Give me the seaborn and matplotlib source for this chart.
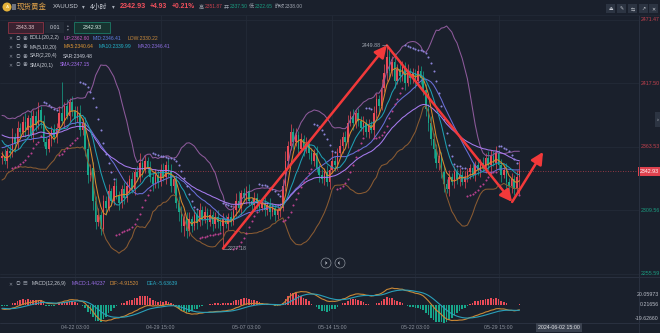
import numpy as np
import pandas as pd
import matplotlib
matplotlib.use("Agg")
import matplotlib.pyplot as plt
import seaborn as sns
from matplotlib.patches import Rectangle, Ellipse
from matplotlib.lines import Line2D
from matplotlib.transforms import blended_transform_factory

# ---------------- data ----------------
pre_close = [2400, 2418, 2396, 2360, 2338, 2346, 2352, 2344, 2336, 2348, 2356, 2350, 2362,
             2358, 2370, 2366, 2378, 2384, 2372, 2380, 2388, 2376, 2368, 2362, 2350, 2354]
first_open = 2354.0
close = [
    2356, 2352, 2360, 2358, 2372, 2366, 2380, 2376, 2385, 2378,
    2388, 2374, 2390, 2382, 2395, 2386, 2368, 2362, 2370, 2378,
    2372, 2380, 2392, 2386, 2398, 2390, 2402, 2394, 2388, 2392,
    2378, 2384, 2362, 2340, 2346, 2318, 2300, 2306, 2294, 2318,
    2312, 2326, 2318, 2330, 2322, 2316, 2328, 2320, 2330, 2336,
    2328, 2342, 2338, 2350, 2344, 2352, 2346, 2338, 2332, 2340,
    2334, 2344, 2338, 2348, 2342, 2330, 2336, 2316, 2308, 2296,
    2304, 2292, 2302, 2296, 2306, 2300, 2310, 2302, 2308, 2300,
    2306, 2298, 2304, 2300, 2296, 2302, 2298, 2304, 2300, 2310,
    2318, 2312, 2324, 2320, 2326, 2318, 2314, 2320, 2316, 2312,
    2316, 2310, 2314, 2308, 2312, 2306, 2310, 2312, 2330, 2352,
    2364, 2376, 2368, 2374, 2362, 2370, 2362, 2366, 2358, 2352,
    2358, 2346, 2340, 2336, 2342, 2334, 2344, 2352, 2348, 2358,
    2364, 2372, 2368, 2384, 2390, 2384, 2392, 2386, 2380, 2384,
    2376, 2382, 2378, 2392, 2404, 2398, 2414, 2426, 2440, 2428,
    2436, 2420, 2430, 2424, 2432, 2418, 2428, 2422, 2426, 2420,
    2428, 2422, 2412, 2396, 2384, 2370, 2362, 2350, 2356, 2342,
    2332, 2328, 2338, 2334, 2342, 2336, 2340, 2334, 2338, 2342,
    2346, 2340, 2348, 2344, 2350, 2346, 2354, 2348, 2356, 2350,
    2358, 2348, 2340, 2344, 2334, 2330, 2336, 2328, 2338, 2342.93,
]
wick_up = [
    4, 6, 3, 5, 8, 3, 6, 4, 5, 7, 3, 6, 5, 4, 7, 3, 5, 4, 6, 3,
    5, 4, 6, 27, 4, 6, 3, 5, 4, 6, 7, 4, 5, 6, 3, 5, 4, 6, 3, 5,
    4, 6, 3, 5, 7, 4, 3, 6, 5, 4, 6, 3, 5, 8, 4, 5, 3, 6, 4, 5,
    3, 5, 6, 4, 5, 7, 3, 4, 6, 5, 3, 4, 6, 3, 5, 4, 6, 3, 5, 4,
    5, 3, 4, 6, 3, 5, 4, 3, 5, 4, 6, 8, 3, 5, 4, 6, 3, 5, 4, 3,
    4, 5, 3, 6, 4, 3, 5, 4, 6, 8, 5, 7, 4, 6, 3, 5, 4, 6, 3, 5,
    4, 6, 3, 5, 4, 6, 3, 7, 4, 5, 6, 4, 5, 7, 4, 6, 3, 5, 4, 6,
    3, 5, 4, 6, 5, 4, 7, 8, 9.88, 6, 5, 7, 4, 6, 5, 4, 6, 3, 5, 4,
    5, 4, 6, 5, 4, 6, 5, 4, 6, 3, 5, 4, 6, 3, 5, 4, 6, 3, 5, 4,
    3, 5, 4, 6, 3, 5, 4, 6, 5, 4, 6, 3, 5, 4, 6, 3, 5, 4, 6, 8.94,
]
wick_dn = [
    5, 3, 6, 4, 3, 7, 4, 5, 3, 6, 4, 3, 6, 5, 3, 6, 4, 5, 3, 6,
    4, 5, 3, 4, 6, 3, 5, 4, 6, 3, 5, 4, 6, 7, 5, 8, 6, 4, 5, 4,
    6, 3, 5, 4, 3, 6, 4, 5, 3, 6, 4, 5, 3, 4, 6, 3, 5, 4, 6, 3,
    5, 4, 3, 6, 4, 5, 6, 4, 7, 5, 8, 6, 4, 5, 3, 6, 4, 5, 3, 6,
    4, 6, 3, 5, 4, 18.82, 3, 5, 4, 3, 5, 4, 6, 3, 5, 4, 6, 3, 5, 4,
    3, 5, 4, 6, 3, 5, 4, 6, 3, 4, 5, 3, 6, 4, 5, 3, 6, 4, 5, 3,
    5, 4, 6, 3, 5, 4, 6, 3, 5, 4, 3, 6, 4, 5, 3, 6, 4, 5, 3, 6,
    4, 5, 3, 6, 4, 5, 3, 4, 6, 5, 4, 6, 3, 5, 4, 6, 3, 5, 4, 6,
    3, 5, 4, 6, 7, 5, 8, 4, 6, 5, 7, 4, 6, 3, 5, 4, 6, 3, 5, 4,
    6, 3, 5, 4, 6, 3, 5, 4, 6, 3, 5, 4, 6, 3, 5, 4, 6, 5, 4, 15.35,
]
price_ticks = [2471.47, 2417.50, 2363.53, 2309.56, 2255.59]
current_price = 2342.93
macd_ticks = ["20.05973", "0.21656", "-19.62660"]
date_tick_idx = [28, 61, 94, 127, 159, 191]
date_labels = ["04-22 03:00", "04-29 15:00", "05-07 03:00", "05-14 15:00", "05-22 03:00", "05-29 15:00"]
cursor_label = "2024-06-02 15:00"
arrow_extra = [(196.2, 2316.8), (208.1, 2359.3)]   # hand-drawn arrow tips

# ---------------- indicators ----------------
c = np.array(close, float)
o = np.concatenate([[first_open], c[:-1]])
hi = np.maximum(o, c) + np.array(wick_up, float)
lo = np.minimum(o, c) - np.array(wick_dn, float)
idx = np.arange(len(c))
npre = len(pre_close)
full = pd.Series(pre_close + close, dtype=float)

def ma(n):
    return full.rolling(n).mean().values[npre:]
ma5, ma10, ma20 = ma(5), ma(10), ma(20)
sd20 = full.rolling(20).std(ddof=0).values[npre:]
b_up, b_dn = ma20 + 2 * sd20, ma20 - 2 * sd20
sma = full.ewm(alpha=1 / 20, adjust=False).mean().values[npre:]
dif_full = full.ewm(span=12, adjust=False).mean() - full.ewm(span=26, adjust=False).mean()
dea_full = dif_full.ewm(span=9, adjust=False).mean()
dif = dif_full.values[npre:]
dea = dea_full.values[npre:]
hist = 2 * (dif - dea)

def psar(h, l, step=0.02, mx=0.2, n0=4):
    n = len(h)
    sar = np.full(n, np.nan)
    tr = np.zeros(n, int)
    up = False
    ep = l[:n0].min()
    s = h[:n0].max()
    af = step
    for i in range(n0, n):
        s = s + af * (ep - s)
        if up:
            s = min(s, l[i - 1], l[i - 2])
            if l[i] < s:
                up, s, ep, af = False, ep, l[i], step
            elif h[i] > ep:
                ep, af = h[i], min(af + step, mx)
        else:
            s = max(s, h[i - 1], h[i - 2])
            if h[i] > s:
                up, s, ep, af = True, ep, h[i], step
            elif l[i] < ep:
                ep, af = l[i], min(af + step, mx)
        sar[i] = s
        tr[i] = 1 if up else -1
    return sar, tr
sar, trend = psar(hi, lo)

# ---------------- style / layout ----------------
W, H = 660, 333
BG = "#1a202c"
GRID = "#232a37"
UPC, DNC = "#e94b58", "#17a78b"
sns.set_theme(style="dark", rc={"axes.facecolor": BG, "figure.facecolor": BG,
                                "savefig.facecolor": BG})
plt.rcParams["font.family"] = ["Liberation Sans", "Noto Sans CJK SC", "DejaVu Sans"]

fig = plt.figure(figsize=(6.6, 3.33), dpi=100)
fx = lambda x: x / W
fy = lambda y: 1 - y / H
X0, STEP = 2.0, 2.6
xlim = ((0 - X0) / STEP, (639 - X0) / STEP)

ax = fig.add_axes([0, fy(277), fx(639), fy(15) - fy(277)])
ax2 = fig.add_axes([0, fy(323), fx(639), fy(277) - fy(323)])
for a in (ax, ax2):
    a.set_facecolor(BG)
    for sp in a.spines.values():
        sp.set_visible(False)

# grid
for p in price_ticks:
    ax.axhline(p, color=GRID, lw=0.6, zorder=0)
for i in date_tick_idx:
    ax.axvline(i, color=GRID, lw=0.6, zorder=0)
    ax2.axvline(i, color=GRID, lw=0.6, zorder=0)

# candles
cols = [UPC if cc >= oo else DNC for oo, cc in zip(o, c)]
ax.vlines(idx, lo, hi, colors=cols, lw=0.5, zorder=2)
bh = np.maximum(np.abs(c - o), 0.5)
ax.bar(idx, bh, bottom=np.minimum(o, c), width=0.62, color=cols, linewidth=0, zorder=2)

# indicator lines
lines = [(b_up, "#8d5a9b"), (b_dn, "#8a5b32"), (ma20, "#6a6fd8"), (sma, "#a77bef"),
         (ma10, "#1f9fb3"), (ma5, "#d88a2c")]
for vals, col in lines:
    sns.lineplot(x=idx, y=vals, ax=ax, color=col, lw=0.75, estimator=None,
                 errorbar=None, legend=False, zorder=3)
m_dn = trend == -1
m_up = trend == 1
sns.scatterplot(x=idx[m_dn], y=sar[m_dn], ax=ax, color="#8c84d8", s=2.2, linewidth=0,
                legend=False, zorder=3)
sns.scatterplot(x=idx[m_up], y=sar[m_up], ax=ax, color="#b9418f", s=2.2, linewidth=0,
                legend=False, zorder=3)

# current price line
ax.axhline(current_price, color="#b8404c", lw=0.6, ls=(0, (1, 2)), zorder=1)

# arrows
i_lo, i_hi = int(np.argmin(lo)), int(np.argmax(hi))
pts = [(i_lo, lo[i_lo]), (i_hi, hi[i_hi])] + arrow_extra
for (xa, ya), (xb, yb) in zip(pts[:-1], pts[1:]):
    ax.annotate("", xy=(xb, yb), xytext=(xa, ya),
                arrowprops=dict(arrowstyle="-|>,head_length=0.9,head_width=0.45",
                                color="#f2393a", lw=1.8, shrinkA=0, shrinkB=0,
                                mutation_scale=8), zorder=6)
ax.text(i_hi - 2.2, hi[i_hi], f"{hi[i_hi]:.2f}", color="#a2a8b2", fontsize=3.8,
        ha="right", va="center", zorder=6)
ax.plot([i_hi - 2.0, i_hi], [hi[i_hi]] * 2, color="#a2a8b2", lw=0.4, zorder=6)
ax.text(i_lo + 2.0, lo[i_lo], f"{lo[i_lo]:.2f}", color="#a2a8b2", fontsize=3.8,
        ha="left", va="center", zorder=6)
ax.plot([i_lo, i_lo + 1.8], [lo[i_lo]] * 2, color="#a2a8b2", lw=0.4, zorder=6)

ax.set_xlim(*xlim)
ax.set_ylim(2253.0, 2475.7)
ax.set(xlabel="", ylabel="", xticks=[], yticks=[])

# MACD
hcols = [UPC if v >= 0 else DNC for v in hist]
ax2.bar(idx, hist, width=0.62, color=hcols, linewidth=0, zorder=2)
sns.lineplot(x=idx, y=dif, ax=ax2, color="#c98836", lw=0.8, estimator=None,
             errorbar=None, legend=False, zorder=3)
sns.lineplot(x=idx, y=dea, ax=ax2, color="#2a9fb8", lw=0.8, estimator=None,
             errorbar=None, legend=False, zorder=3)
ax2.set_xlim(*xlim)
# scale the pane so that the DIF range spans the same pixels as in the reference
dmax, dmin = np.nanmax(dif), np.nanmin(dif)
s_px = 33.0 / (dmax - dmin)
y0 = 288 + dmax * s_px
ax2.set_ylim((y0 - 323) / s_px, (y0 - 277) / s_px)
ax2.set(xlabel="", ylabel="", xticks=[], yticks=[])

# right axis labels
tr_main = blended_transform_factory(fig.transFigure, ax.transData)
for p in price_ticks:
    ax.text(fx(641), p, f"{p:.2f}", transform=tr_main, fontsize=3.8, va="center",
            ha="left", color="#c3414e" if p > current_price else "#1a9b80", clip_on=False)
ax.text(fx(640), current_price, f"{current_price:.2f}", transform=tr_main, fontsize=3.8,
        va="center", ha="left", color="white", clip_on=False,
        bbox=dict(boxstyle="square,pad=0.35", fc="#e0424f", ec="none"))
for lab, yy in zip(macd_ticks, [295, 305, 319]):
    fig.text(fx(659), fy(yy), lab, fontsize=3.8, va="center", ha="right", color="#b8bcc6")

# date labels
tr_date = blended_transform_factory(ax2.transData, fig.transFigure)
for i, lab in zip(date_tick_idx, date_labels):
    ax2.text(i, fy(327.5), lab, transform=tr_date, fontsize=3.8, ha="center",
             va="center", color="#8d939e", clip_on=False)
fig.text(fx(559), fy(327.5), cursor_label, fontsize=3.8, ha="center", va="center",
         color="#e6e8ec", bbox=dict(boxstyle="square,pad=0.35", fc="#3a414f", ec="none"))

# separators
SEP = "#2a3140"
fig.add_artist(Line2D([0, 1], [fy(277), fy(277)], color=SEP, lw=0.7))
fig.add_artist(Line2D([0, 1], [fy(323), fy(323)], color=SEP, lw=0.7))
fig.add_artist(Line2D([fx(639), fx(639)], [fy(15), fy(333)], color=SEP, lw=0.7))
fig.add_artist(Line2D([0, 1], [fy(15), fy(15)], color="#222936", lw=0.6))

def T(x, y, s, color, size, weight="normal", ha="left", family=None):
    kw = {} if family is None else {"family": family}
    return fig.text(fx(x), fy(y), s, color=color, fontsize=size, fontweight=weight,
                    ha=ha, va="center", **kw)

renderer = fig.canvas.get_renderer()
def seq(x, y, items):
    for s, col, size, weight, gap in items:
        t = T(x, y, s, col, size, weight)
        x = t.get_window_extent(renderer).x1 + gap
    return x

# header
fig.add_artist(Ellipse((fx(7), fy(7)), 9 / W, 9 / H, transform=fig.transFigure,
                       fc="#e5b23a", ec="none"))
T(7, 7.2, "A", "#fff2c0", 3.2, "bold", "center")
fig.add_artist(Rectangle((fx(12), fy(10)), 4 / W, 6 / H, transform=fig.transFigure,
                         fc="#6d7380", ec="none"))
GREY = "#9ca2ad"
T(17, 7, "现货黄金", "#e0a24a", 5.4)
T(53, 7, "XAUUSD", "#c8ccd4", 4.4)
T(83, 7, "▾", "#aab0ba", 4, ha="center")
T(90, 7, "4小时", "#c8ccd4", 4.9)
T(113, 7, "▾", "#aab0ba", 4, ha="center")
T(120, 7, "2342.93", "#f0505c", 5.2, "bold")
T(150, 7, "+4.93", "#f0505c", 4.9, "bold")
T(172, 7, "+0.21%", "#f0505c", 4.9, "bold")
seq(199, 7, [("高", GREY, 3.7, "normal", 0.8),
             ("2351.87", "#c8404e", 3.6, "normal", 1.2),
             ("开", GREY, 3.7, "normal", 0.8),
             ("2337.50", "#1a9b80", 3.6, "normal", 1.2),
             ("低", GREY, 3.7, "normal", 0.8),
             ("2322.65", "#1a9b80", 3.6, "normal", 1.2),
             ("昨收", GREY, 3.7, "normal", 0.8),
             ("2338.00", GREY, 3.6, "normal", 0)])

# toolbar icons (top right)
for x0, g in zip([606, 617, 628, 639, 649], ["⏏", "✎", "⇆", "↗", "✕"]):
    fig.add_artist(Rectangle((fx(x0), fy(13)), 9 / W, 9 / H, transform=fig.transFigure,
                             fc="#2c3442", ec="none"))
    T(x0 + 4.5, 8.6, g, "#c8ccd4", 3.5, ha="center", family=["DejaVu Sans"])
fig.add_artist(Rectangle((fx(655), fy(127)), 5 / W, 15 / H, transform=fig.transFigure,
                         fc="#2c3442", ec="none"))
T(657.5, 119.5, "›", "#c8ccd4", 4, ha="center")

# price boxes
fig.add_artist(Rectangle((fx(8), fy(33)), 35 / W, 11 / H, transform=fig.transFigure,
                         fc="#3a2230", ec="#8e3444", lw=0.6))
T(25.5, 27.5, "2343.38", "#e2c8cc", 3.8, ha="center")
fig.add_artist(Rectangle((fx(45), fy(33)), 19 / W, 11 / H, transform=fig.transFigure,
                         fc="#222935", ec="none"))
T(54.5, 27.5, "0.01", "#d0d4dc", 3.8, ha="center")
T(67.5, 25.5, "▴", "#8d939e", 2.6, ha="center")
T(67.5, 29.5, "▾", "#8d939e", 2.6, ha="center")
fig.add_artist(Rectangle((fx(74), fy(33)), 36 / W, 11 / H, transform=fig.transFigure,
                         fc="#173430", ec="#1c7a66", lw=0.6))
T(92, 27.5, "2342.93", "#d8ece6", 3.8, ha="center")

# indicator legends
LBL = "#c8ccd4"
ICO = "#8a909c"
def icons(y, third="◉"):
    T(10, y, "✕", ICO, 3.4, ha="center")
    T(18, y, "◎", ICO, 3.4, ha="center")
    T(25, y, third, ICO, 3.4, ha="center")

legend_rows = [
    (38, [(30, "BOLL(20,2,2)", LBL), (64, "UP:2362.60", "#c45cbd"),
          (93, "MID:2346.41", "#5e7fe2"), (128, "LOW:2330.22", "#c98a3c")]),
    (47, [(30, "MA(5,10,20)", LBL), (64, "MA5:2340.64", "#e39a35"),
          (99, "MA10:2339.99", "#23b1c9"), (138, "MA20:2346.41", "#8d6ee0")]),
    (56, [(30, "SAR(2,20,4)", LBL), (63, "SAR:2349.48", "#c9cdd8")]),
    (65, [(30, "SMA(20,1)", LBL), (60, "SMA:2347.15", "#a76ef0")]),
]
for y, items in legend_rows:
    icons(y)
    for x, s, col in items:
        T(x, y, s, col, 3.6)

icons(283.5, "▤")
for x, s, col in [(32, "MACD(12,26,9)", LBL), (72, "MACD:1.44237", "#9b6ee8"),
                  (110, "DIF:-4.91520", "#d8913e"), (147, "DEA:-5.63639", "#2aaac4")]:
    T(x, 283.5, s, col, 3.6)

# round navigation buttons
for xc, g in [(326, "|◂"), (340, "▸|")]:
    fig.add_artist(Ellipse((fx(xc), fy(263)), 10 / W, 10 / H, transform=fig.transFigure,
                           fc=BG, ec="#8a909a", lw=0.5))
    T(xc, 263.2, g, "#c8ccd4", 2.8, ha="center")

fig.savefig("out.png", dpi=100, facecolor=BG)
